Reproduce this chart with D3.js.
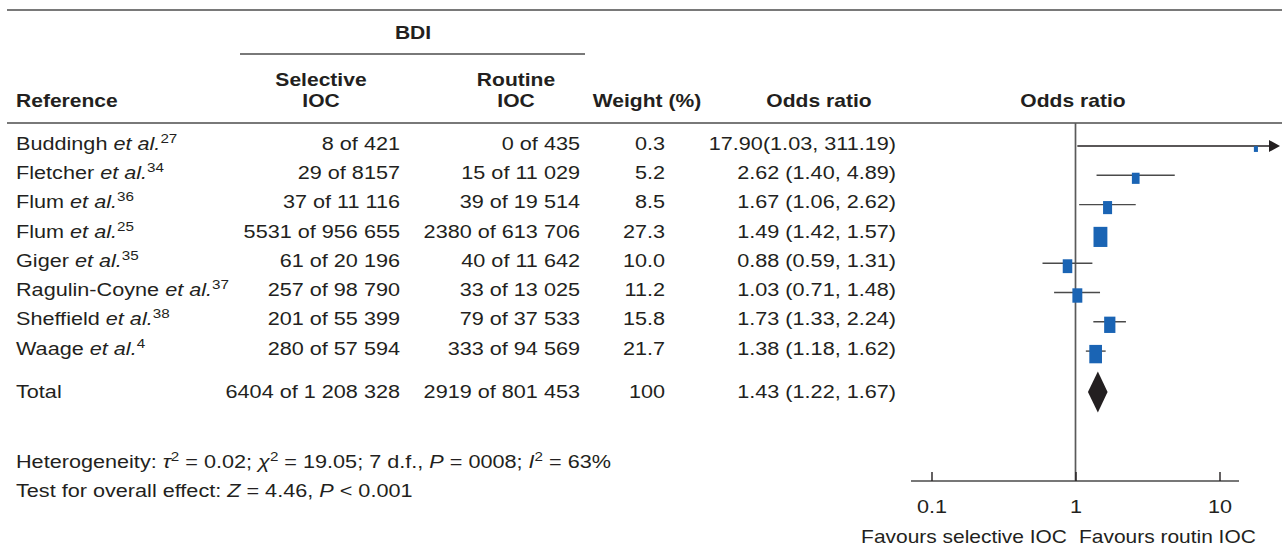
<!DOCTYPE html>
<html>
<head>
<meta charset="utf-8">
<script src="https://cdn.jsdelivr.net/npm/d3@7"></script>
<style>
  html, body { margin: 0; padding: 0; background: #fff; }
  svg { display: block; }
  text { font-family: "Liberation Sans", Arial, Helvetica, sans-serif; fill: #231f20; }
</style>
</head>
<body>
<svg id="chart" width="1282" height="556"></svg>
<script>
// ---- data -------------------------------------------------------------
const authors   = ["Buddingh", "Fletcher", "Flum", "Flum", "Giger", "Ragulin-Coyne", "Sheffield", "Waage"];
const citations = ["27", "34", "36", "25", "35", "37", "38", "4"];
const selectiveEvents = [8, 29, 37, 5531, 61, 257, 201, 280];
const selectiveTotals = [421, 8157, 11116, 956655, 20196, 98790, 55399, 57594];
const routineEvents   = [0, 15, 39, 2380, 40, 33, 79, 333];
const routineTotals   = [435, 11029, 19514, 613706, 11642, 13025, 37533, 94569];
const weights   = [0.3, 5.2, 8.5, 27.3, 10.0, 11.2, 15.8, 21.7];
const oddsRatio = [17.90, 2.62, 1.67, 1.49, 0.88, 1.03, 1.73, 1.38];
const ciLower   = [1.03, 1.40, 1.06, 1.42, 0.59, 0.71, 1.33, 1.18];
const ciUpper   = [311.19, 4.89, 2.62, 1.57, 1.31, 1.48, 2.24, 1.62];

const totalSelective = [6404, 1208328];
const totalRoutine   = [2919, 801453];
const totalWeight    = 100;
const totalOR        = [1.43, 1.22, 1.67];   // estimate, lower, upper

const axisTicks = [0.1, 1, 10];
const favourLabels = ["Favours selective IOC", "Favours routin IOC"];

// ---- helpers ----------------------------------------------------------
const svg = d3.select("#chart");
const FS = 18.5;      // body font size
const FH = 18;        // header font size
const SX = 1.17;      // horizontal stretch of the typeface
const ink = "#231f20";
const rule = "#4d4d4d";

function fmtCount(n) {
  return n >= 10000 ? d3.format(",")(n).replace(/,/g, " ") : String(n);
}
const fmt2 = d3.format(".2f");
const fmt1 = d3.format(".1f");
function fmtOR(est, lo, hi) {
  const sep = hi >= 100 ? "" : " ";
  return fmt2(est) + sep + "(" + fmt2(lo) + ", " + fmt2(hi) + ")";
}

function txt(x, y, anchor, opts = {}) {
  return svg.append("text")
    .attr("transform", `translate(${x},${y}) scale(${SX},1)`)
    .attr("text-anchor", anchor)
    .style("font-size", (opts.size || FS) + "px")
    .style("font-weight", opts.bold ? "bold" : "normal");
}
function sup(t, s) {
  t.append("tspan").attr("dy", -7).style("font-size", "13px").text(s);
}

// ---- rules ------------------------------------------------------------
svg.append("line").attr("x1", 7).attr("x2", 1282).attr("y1", 10).attr("y2", 10)
  .attr("stroke", rule).attr("stroke-width", 1.5);
svg.append("line").attr("x1", 7).attr("x2", 1282).attr("y1", 123).attr("y2", 123)
  .attr("stroke", rule).attr("stroke-width", 1.5);
svg.append("line").attr("x1", 240).attr("x2", 585).attr("y1", 54).attr("y2", 54)
  .attr("stroke", rule).attr("stroke-width", 1.3);

// ---- header -----------------------------------------------------------
const colRef = 16, colSel = 400, colRout = 580, colW = 665, colOR = 896;
const hb = { bold: true, size: FH };
txt(413, 39, "middle", hb).text("BDI");
txt(321, 85.5, "middle", hb).text("Selective");
txt(321, 106.5, "middle", hb).text("IOC");
txt(516, 85.5, "middle", hb).text("Routine");
txt(516, 106.5, "middle", hb).text("IOC");
txt(colRef, 106.5, "start", hb).text("Reference");
txt(647, 106.5, "middle", hb).text("Weight (%)");
txt(819, 106.5, "middle", hb).text("Odds ratio");
txt(1073, 106.5, "middle", hb).text("Odds ratio");

// ---- scales -----------------------------------------------------------
const x = d3.scaleLog().domain([0.1, 10]).range([931.5, 1219.5]);
const y = d3.scaleLinear().domain([0, authors.length - 1]).range([146, 351.1]);
const yTotal = 392;
const size = d3.scaleSqrt().domain([0, 30]).range([2.9, 14.4]);
const plotRight = 1280;
const axisY = 481;

// ---- study rows -------------------------------------------------------
authors.forEach((a, i) => {
  const base = y(i) + 3.6;
  const t = txt(colRef, base, "start");
  t.append("tspan").text(a + " ");
  t.append("tspan").style("font-style", "italic").text("et al.");
  sup(t, citations[i]);

  txt(colSel, base, "end").text(fmtCount(selectiveEvents[i]) + " of " + fmtCount(selectiveTotals[i]));
  txt(colRout, base, "end").text(fmtCount(routineEvents[i]) + " of " + fmtCount(routineTotals[i]));
  txt(colW, base, "end").text(fmt1(weights[i]));
  txt(colOR, base, "end").text(fmtOR(oddsRatio[i], ciLower[i], ciUpper[i]));
});

// total row
txt(colRef, 397.5, "start").text("Total");
txt(colSel, 397.5, "end").text(fmtCount(totalSelective[0]) + " of " + fmtCount(totalSelective[1]));
txt(colRout, 397.5, "end").text(fmtCount(totalRoutine[0]) + " of " + fmtCount(totalRoutine[1]));
txt(colW, 397.5, "end").text(String(totalWeight));
txt(colOR, 397.5, "end").text(fmtOR(totalOR[0], totalOR[1], totalOR[2]));

// ---- forest plot ------------------------------------------------------
// line of no effect
svg.append("line").attr("x1", x(1)).attr("x2", x(1)).attr("y1", 123).attr("y2", axisY)
  .attr("stroke", "#5a5a5a").attr("stroke-width", 1.7);

const maxVisible = x.invert(plotRight);
const forest = svg.append("g");
authors.forEach((a, i) => {
  const cy = y(i);
  const clipped = ciUpper[i] > maxVisible;
  const xEnd = clipped ? plotRight - 10 : x(ciUpper[i]);
  forest.append("line")
    .attr("x1", x(ciLower[i])).attr("x2", xEnd)
    .attr("y1", cy).attr("y2", cy)
    .attr("stroke", clipped ? "#231f20" : "#4a4a4a").attr("stroke-width", 1.4);
  if (clipped) {
    forest.append("path")
      .attr("d", `M${plotRight - 11},${cy - 6}L${plotRight},${cy}L${plotRight - 11},${cy + 6}Z`)
      .attr("fill", ink);
  }
  const w = size(weights[i]), h = w * 1.45;
  forest.append("rect")
    .attr("x", x(oddsRatio[i]) - w / 2).attr("y", cy + 3 - h / 2)
    .attr("width", w).attr("height", h)
    .attr("fill", "#1a64b4");
});

// pooled estimate
forest.append("path")
  .attr("d", `M${x(totalOR[1])},${yTotal}L${x(totalOR[0])},${yTotal - 20.5}L${x(totalOR[2])},${yTotal}L${x(totalOR[0])},${yTotal + 20.5}Z`)
  .attr("fill", ink);

// axis
svg.append("line").attr("x1", 911).attr("x2", 1239).attr("y1", axisY).attr("y2", axisY)
  .attr("stroke", "#4a4a4a").attr("stroke-width", 1.5);
const axis = svg.append("g").attr("transform", `translate(0,${axisY})`)
  .call(d3.axisBottom(x).tickValues(axisTicks).tickFormat(d3.format("~g")).tickSize(-9).tickSizeOuter(0));
axis.select(".domain").remove();
axis.selectAll(".tick line").attr("stroke", "#231f20").attr("stroke-width", 1.4);
axis.selectAll(".tick text")
  .attr("y", 32).attr("dy", null)
  .attr("transform", `scale(${SX},1)`)
  .style("font-size", FS + "px")
  .style("font-family", "'Liberation Sans', Arial, Helvetica, sans-serif")
  .attr("fill", ink);

txt(1067, 543, "end", { size: 17.9 }).text(favourLabels[0]);
txt(1079, 543, "start", { size: 17.9 }).text(favourLabels[1]);

// ---- footnotes ---------------------------------------------------------
const het = txt(colRef, 467.5, "start");
het.append("tspan").text("Heterogeneity: ");
het.append("tspan").style("font-style", "italic").text("τ");
sup(het, "2");
het.append("tspan").attr("dy", 7).text(" = 0.02; ");
het.append("tspan").style("font-style", "italic").text("χ");
sup(het, "2");
het.append("tspan").attr("dy", 7).text(" = 19.05; 7 d.f., ");
het.append("tspan").style("font-style", "italic").text("P");
het.append("tspan").text(" = 0008; ");
het.append("tspan").style("font-style", "italic").text("I");
sup(het, "2");
het.append("tspan").attr("dy", 7).text(" = 63%");

const test = txt(colRef, 496.5, "start");
test.append("tspan").text("Test for overall effect: ");
test.append("tspan").style("font-style", "italic").text("Z");
test.append("tspan").text(" = 4.46, ");
test.append("tspan").style("font-style", "italic").text("P");
test.append("tspan").text(" < 0.001");
</script>
</body>
</html>
